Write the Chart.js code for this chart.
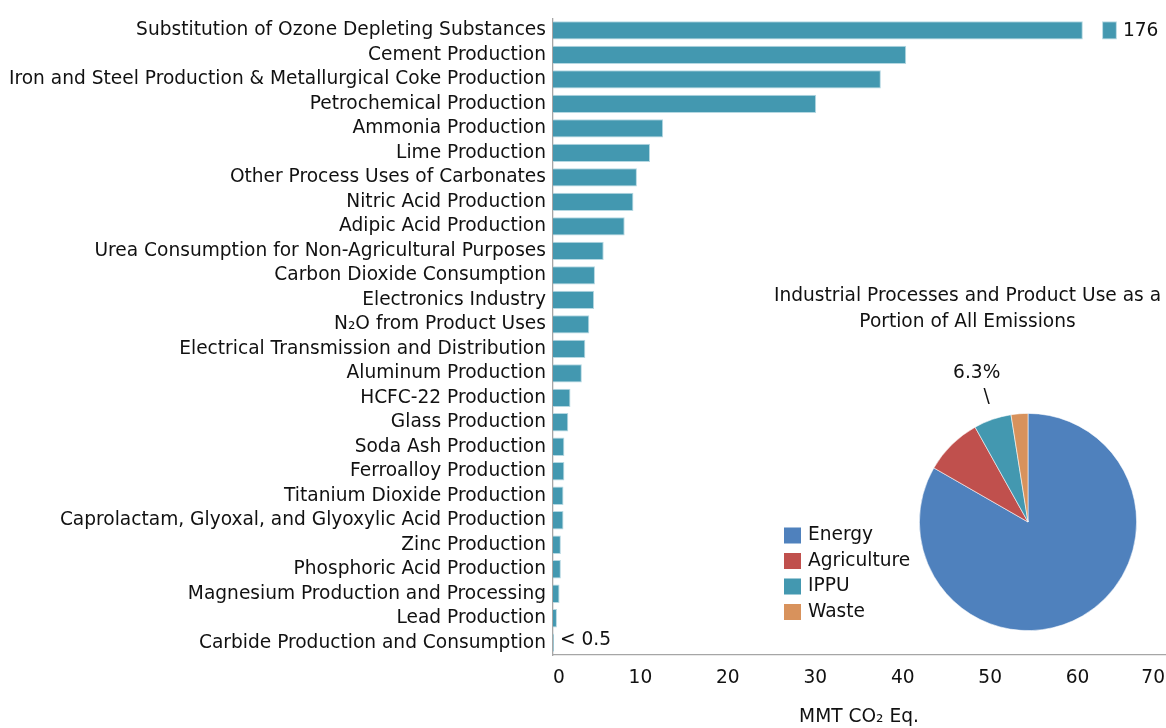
<!doctype html>
<html>
<head>
<title>IPPU Emissions by Source</title>
<script src="https://cdn.jsdelivr.net/npm/chart.js@4.4.0/dist/chart.umd.min.js"></script>
<style>
    html, body { margin: 0; padding: 0; background: #fff; overflow: hidden; }
    #wrap { position: relative; width: 1166px; height: 728px; }
    #wrap canvas { position: absolute; left: 0; top: 0; }
    #pieChart { pointer-events: none; }
</style>
</head>
<body>
<div id="wrap">
    <canvas id="barChart" width="1166" height="728"></canvas>
    <canvas id="pieChart" width="1166" height="728"></canvas>
</div>
<script>
    // bar chart data (MMT CO2 Eq.)
    var sources = [
        'Substitution of Ozone Depleting Substances',
        'Cement Production',
        'Iron and Steel Production & Metallurgical Coke Production',
        'Petrochemical Production',
        'Ammonia Production',
        'Lime Production',
        'Other Process Uses of Carbonates',
        'Nitric Acid Production',
        'Adipic Acid Production',
        'Urea Consumption for Non-Agricultural Purposes',
        'Carbon Dioxide Consumption',
        'Electronics Industry',
        'N\u2082O from Product Uses',
        'Electrical Transmission and Distribution',
        'Aluminum Production',
        'HCFC-22 Production',
        'Glass Production',
        'Soda Ash Production',
        'Ferroalloy Production',
        'Titanium Dioxide Production',
        'Caprolactam, Glyoxal, and Glyoxylic Acid Production',
        'Zinc Production',
        'Phosphoric Acid Production',
        'Magnesium Production and Processing',
        'Lead Production',
        'Carbide Production and Consumption'
    ];
    var emissions = [176, 40.4, 37.5, 30.1, 12.6, 11.1, 9.6, 9.2, 8.2, 5.8, 4.8, 4.7, 4.15,
        3.7, 3.3, 2.0, 1.75, 1.3, 1.3, 1.2, 1.2, 0.9, 0.9, 0.75, 0.45, 0.1];
    var axisBreak = 60.6;          // where the first bar is cut off
    var breakMarker = [62.8, 64.5]; // small block drawn after the cut
    var smallNote = '< 0.5';
    var xTicks = [0, 10, 20, 30, 40, 50, 60, 70];

    // pie inset data (% of all emissions)
    var sectors = ['Energy', 'Agriculture', 'IPPU', 'Waste'];
    var sectorShares = [83.3, 8.6, 5.6, 2.5];
    var sectorColors = ['#4f81bd', '#c0504d', '#4398b0', '#d8925c'];
    var ippuLabel = '6.3%';
    var insetTitle = ['Industrial Processes and Product Use as a', 'Portion of All Emissions'];

    var FAMILY = '"DejaVu Sans", Verdana, sans-serif';
    var SIZE = 18.6;
    var INK = '#111111';
    var TEAL = '#4398b0';
    var AXIS = '#a6a6a6';

    var shown = emissions.map(function(v) { return Math.min(v, axisBreak); });
    var marker = sources.map(function(s, i) { return i === 0 ? breakMarker : null; });

    var barNotes = {
        id: 'barNotes',
        afterDatasetsDraw: function(chart) {
            var ctx = chart.ctx;
            var x = chart.scales.x, y = chart.scales.y;
            ctx.save();
            ctx.font = SIZE + 'px ' + FAMILY;
            ctx.fillStyle = INK;
            ctx.textAlign = 'left';
            ctx.textBaseline = 'middle';
            ctx.fillText(String(emissions[0]), x.getPixelForValue(breakMarker[1]) + 6, y.getPixelForValue(0) + 1);
            ctx.fillText(smallNote, x.getPixelForValue(0) + 7, y.getPixelForValue(sources.length - 1) - 3);
            ctx.restore();
        }
    };

    new Chart(document.getElementById('barChart'), {
        type: 'bar',
        data: {
            labels: sources,
            datasets: [{
                data: shown,
                backgroundColor: TEAL,
                borderColor: '#b5d8e2',
                borderWidth: 1,
                categoryPercentage: 1,
                barPercentage: 0.75,
                grouped: false
            }, {
                data: marker,
                backgroundColor: TEAL,
                borderColor: '#b5d8e2',
                borderWidth: 1,
                borderSkipped: false,
                categoryPercentage: 1,
                barPercentage: 0.75,
                grouped: false
            }]
        },
        options: {
            indexAxis: 'y',
            responsive: false,
            animation: false,
            layout: { padding: { top: 17, right: 1, left: 0, bottom: 0 } },
            plugins: { legend: { display: false }, tooltip: { enabled: false } },
            scales: {
                x: {
                    type: 'linear',
                    min: 0,
                    max: 70,
                    afterBuildTicks: function(s) { s.ticks = xTicks.map(function(v) { return { value: v }; }); },
                    afterFit: function(s) {
                        s.height = 73;
                        s.paddingLeft = 0;
                        s.paddingRight = 0;
                    },
                    grid: { display: false, drawTicks: false },
                    border: { display: true, color: AXIS, width: 1.3 },
                    ticks: { color: INK, font: { family: FAMILY, size: SIZE }, padding: 12, align: 'inner' },
                    title: {
                        display: true,
                        text: 'MMT CO\u2082 Eq.',
                        color: INK,
                        font: { family: FAMILY, size: SIZE },
                        padding: { top: 0, bottom: 0 }
                    }
                },
                y: {
                    afterFit: function(s) { s.width = 553; },
                    grid: { display: false, drawTicks: false },
                    border: { display: true, color: AXIS, width: 1.3 },
                    ticks: { color: INK, font: { family: FAMILY, size: SIZE }, padding: 7, autoSkip: false }
                }
            }
        },
        plugins: [barNotes]
    });

    var insetText = {
        id: 'insetText',
        afterDraw: function(chart) {
            var ctx = chart.ctx;
            ctx.save();
            ctx.font = SIZE + 'px ' + FAMILY;
            ctx.fillStyle = INK;
            ctx.textBaseline = 'middle';

            // title
            ctx.textAlign = 'center';
            ctx.fillText(insetTitle[0], 967.5, 296);
            ctx.fillText(insetTitle[1], 967.5, 322);

            // IPPU callout, placed along the middle of its slice
            var arc = chart.getDatasetMeta(0).data[2];
            var mid = (arc.startAngle + arc.endAngle) / 2;
            ctx.fillText(ippuLabel, arc.x + Math.cos(mid) * 157, arc.y + Math.sin(mid) * 157);
            ctx.fillText('\\', arc.x + Math.cos(mid) * 133 + 2, arc.y + Math.sin(mid) * 133 + 1);

            // legend
            ctx.textAlign = 'left';
            sectors.forEach(function(name, i) {
                var cy = 535.5 + i * 25.5;
                ctx.fillStyle = sectorColors[i];
                ctx.fillRect(784, cy - 8, 17, 16);
                ctx.fillStyle = INK;
                ctx.fillText(name, 808, cy);
            });
            ctx.restore();
        }
    };

    new Chart(document.getElementById('pieChart'), {
        type: 'pie',
        data: {
            labels: sectors,
            datasets: [{
                data: sectorShares,
                backgroundColor: sectorColors,
                borderColor: 'rgba(255,255,255,0.7)',
                borderWidth: 0.8
            }]
        },
        options: {
            responsive: false,
            animation: false,
            layout: { padding: { left: 919, top: 413, right: 29, bottom: 97 } },
            plugins: { legend: { display: false }, tooltip: { enabled: false } }
        },
        plugins: [insetText]
    });
</script>
</body>
</html>
